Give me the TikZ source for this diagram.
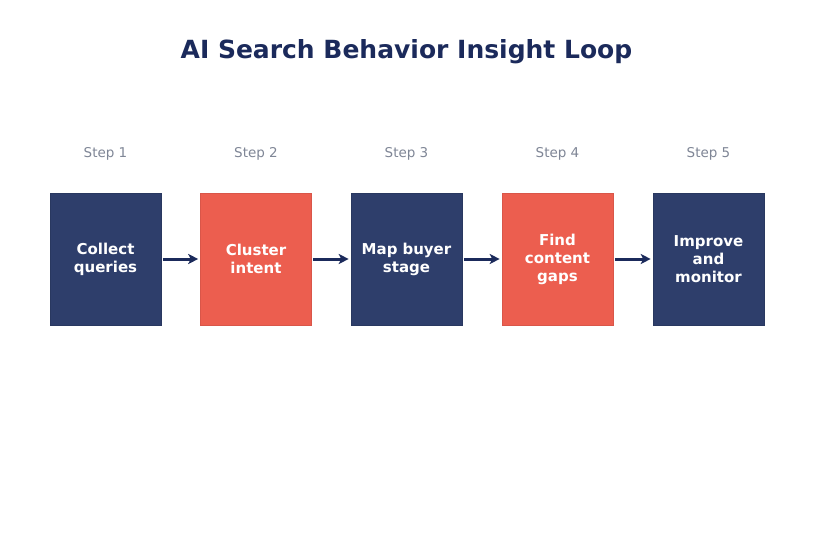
\documentclass[tikz,border=0pt]{standalone}
\usepackage{fontspec}
\setmainfont{DejaVu Sans}
\usetikzlibrary{arrows.meta}
\definecolor{navy}{HTML}{2E3E6B}
\definecolor{coral}{HTML}{EC5E4F}
\definecolor{titleblue}{HTML}{1B2A5B}
\definecolor{stepgray}{HTML}{7F8696}
\definecolor{arrowblue}{HTML}{1B2A5B}
\tikzset{
  x=1pt, y=-1pt,
  stepbox/.style={minimum width=111pt, minimum height=132pt, inner sep=2pt, text width=107pt, align=center,
    text=white, font=\fontsize{15}{18}\selectfont\bfseries},
  navybox/.style={stepbox, fill=navy, draw=navy!90!black, line width=0.6pt},
  coralbox/.style={stepbox, fill=coral, draw=coral!92!black, line width=0.6pt},
  steplabel/.style={text=stepgray, font=\fontsize{13.5}{16}\selectfont},
  flow/.style={draw=arrowblue, line width=3pt, -{Stealth[length=10pt,width=10pt,inset=2.5pt]}, shorten >=2pt, shorten <=1.5pt}
}
\begin{document}
\begin{tikzpicture}
\useasboundingbox (0,0) rectangle (813,545);
\fill[white] (0,0) rectangle (813,545);
\node[text=titleblue, font=\fontsize{25}{30}\selectfont\bfseries] (title) at (406.5,52) {AI Search Behavior Insight Loop};

\node[navybox]  (b1) at (105.5,259) {Collect\\queries};
\node[coralbox] (b2) at (256,259)   {Cluster\\intent};
\node[navybox]  (b3) at (406.5,259) {Map buyer\\stage};
\node[coralbox] (b4) at (557.5,259) {Find\\content\\gaps};
\node[navybox]  (b5) at (708.5,259) {Improve\\and\\monitor};

\node[steplabel] (s1) at (105.5,154) {Step 1};
\node[steplabel] (s2) at (256,154)   {Step 2};
\node[steplabel] (s3) at (406.5,154) {Step 3};
\node[steplabel] (s4) at (557.5,154) {Step 4};
\node[steplabel] (s5) at (708.5,154) {Step 5};

\draw[flow] (b1) -- (b2);
\draw[flow] (b2) -- (b3);
\draw[flow] (b3) -- (b4);
\draw[flow] (b4) -- (b5);
\end{tikzpicture}
\end{document}
